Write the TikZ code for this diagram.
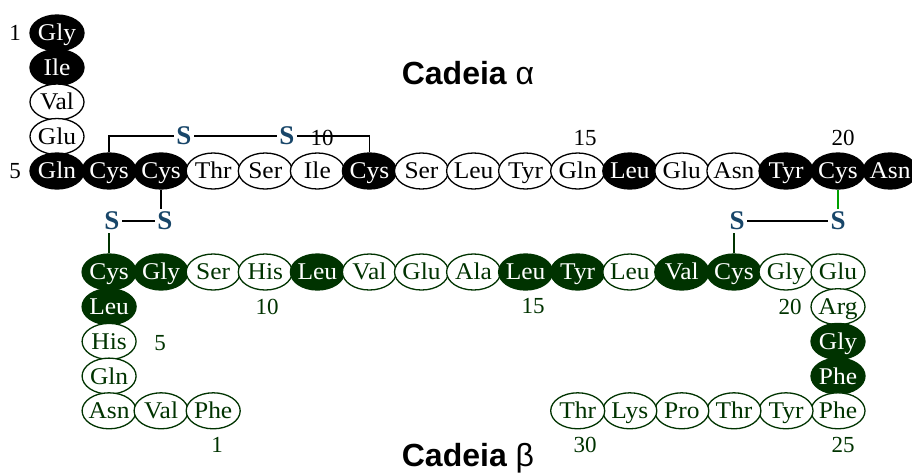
\documentclass[tikz,border=0pt]{standalone}
\usepackage{fontspec}
\setmainfont{Liberation Serif}
\newfontfamily\resfamily[FakeStretch=1.06]{Liberation Serif}
\newfontfamily\titlefamily{Liberation Sans}
\newcommand\myresfont{\resfamily\fontsize{24}{26}\selectfont}
\newcommand\mynumfont{\fontsize{23}{25}\selectfont}
\newcommand\mysfont{\bfseries\fontsize{27}{29}\selectfont}
\newcommand\mytitlefont{\titlefamily\fontsize{32}{34}\selectfont}
\newcommand\rsd[1]{\makebox[0pt]{#1}}
\usetikzlibrary{shapes.geometric}
\definecolor{dg}{RGB}{0,51,0}
\definecolor{sblue}{RGB}{24,70,105}
\definecolor{lg}{RGB}{0,160,0}
\tikzset{
  res/.style={ellipse, minimum width=54pt, minimum height=36pt, inner sep=0pt,
    line width=1.3pt, font=\myresfont, text height=17.5pt, text depth=1.6pt},
  af/.style={res, draw=black, fill=black, text=white},
  ao/.style={res, draw=black, fill=white, text=black},
  bf/.style={res, draw=dg, fill=dg, text=white},
  bo/.style={res, draw=dg, fill=white, text=dg},
  anum/.style={font=\mynumfont, text=black, inner sep=0pt},
  bnum/.style={font=\mynumfont, text=dg, inner sep=0pt},
  sulf/.style={font=\mysfont, text=sblue, inner sep=2.5pt},
  bond/.style={draw=black, line width=1.8pt},
  bondg/.style={draw=dg, line width=1.8pt},
  bondl/.style={draw=lg, line width=1.8pt},
  title/.style={font=\mytitlefont, text=black, inner sep=0pt}
}
\begin{document}
\begin{tikzpicture}[x=1pt,y=-1pt]
\useasboundingbox (0,0) rectangle (912,472);
\clip (0,0) rectangle (912,472);
\fill[white] (0,0) rectangle (912,472);

% chain alpha
\node[af] (a1) at (57,33) {\rsd{Gly}};
\node[af] (a2) at (57,67.5) {\rsd{Ile}};
\node[ao] (a3) at (57,102) {\rsd{Val}};
\node[ao] (a4) at (57,136.5) {\rsd{Glu}};
\node[af] (a5) at (57,171) {\rsd{Gln}};
\node[af] (a6) at (109.1,171) {\rsd{Cys}};
\node[af] (a7) at (161.1,171) {\rsd{Cys}};
\node[ao] (a8) at (213.2,171) {\rsd{Thr}};
\node[ao] (a9) at (265.3,171) {\rsd{Ser}};
\node[ao] (a10) at (317.4,171) {\rsd{Ile}};
\node[af] (a11) at (369.4,171) {\rsd{Cys}};
\node[ao] (a12) at (421.5,171) {\rsd{Ser}};
\node[ao] (a13) at (473.6,171) {\rsd{Leu}};
\node[ao] (a14) at (525.6,171) {\rsd{Tyr}};
\node[ao] (a15) at (577.7,171) {\rsd{Gln}};
\node[af] (a16) at (629.8,171) {\rsd{Leu}};
\node[ao] (a17) at (681.8,171) {\rsd{Glu}};
\node[ao] (a18) at (733.9,171) {\rsd{Asn}};
\node[af] (a19) at (786,171) {\rsd{Tyr}};
\node[af] (a20) at (838,171) {\rsd{Cys}};
\node[af] (a21) at (890.1,171) {\rsd{Asn}};

% chain beta
\node[bf] (b7) at (109.1,272) {\rsd{Cys}};
\node[bf] (b6) at (109.1,306.7) {\rsd{Leu}};
\node[bo] (b5) at (109.1,341.4) {\rsd{His}};
\node[bo] (b4) at (109.1,376.1) {\rsd{Gln}};
\node[bo] (b3) at (109.1,410.8) {\rsd{Asn}};
\node[bo] (b2) at (161.1,410.8) {\rsd{Val}};
\node[bo] (b1) at (213.2,410.8) {\rsd{Phe}};
\node[bf] (b8) at (161.1,272) {\rsd{Gly}};
\node[bo] (b9) at (213.2,272) {\rsd{Ser}};
\node[bo] (b10) at (265.3,272) {\rsd{His}};
\node[bf] (b11) at (317.4,272) {\rsd{Leu}};
\node[bo] (b12) at (369.4,272) {\rsd{Val}};
\node[bo] (b13) at (421.5,272) {\rsd{Glu}};
\node[bo] (b14) at (473.6,272) {\rsd{Ala}};
\node[bf] (b15) at (525.6,272) {\rsd{Leu}};
\node[bf] (b16) at (577.7,272) {\rsd{Tyr}};
\node[bo] (b17) at (629.8,272) {\rsd{Leu}};
\node[bf] (b18) at (681.8,272) {\rsd{Val}};
\node[bf] (b19) at (733.9,272) {\rsd{Cys}};
\node[bo] (b20) at (786,272) {\rsd{Gly}};
\node[bo] (b21) at (838,272) {\rsd{Glu}};
\node[bo] (b22) at (838,306.7) {\rsd{Arg}};
\node[bf] (b23) at (838,341.4) {\rsd{Gly}};
\node[bf] (b24) at (838,376.1) {\rsd{Phe}};
\node[bo] (b25) at (838,410.8) {\rsd{Phe}};
\node[bo] (b26) at (786,410.8) {\rsd{Tyr}};
\node[bo] (b27) at (733.9,410.8) {\rsd{Thr}};
\node[bo] (b28) at (681.8,410.8) {\rsd{Pro}};
\node[bo] (b29) at (629.8,410.8) {\rsd{Lys}};
\node[bo] (b30) at (577.7,410.8) {\rsd{Thr}};

% sulfur atoms
\node[sulf] (s1) at (184,136) {S};
\node[sulf] (s2) at (287,136) {S};
\node[sulf] (s3) at (112,221) {S};
\node[sulf] (s4) at (165,221) {S};
\node[sulf] (s5) at (737,221) {S};
\node[sulf] (s6) at (838,221) {S};

% disulfide bonds
\draw[bond] (a6.north) |- (s1.west);
\draw[bond] (s1.east) -- (s2.west);
\draw[bond] (s2.east) -| (a11.north);
\draw[bond] (a7.south) -- (a7.south |- s4.north);
\draw[bond] (s3.east) -- (s4.west);
\draw[bondg] (b7.north) -- (b7.north |- s3.south);
\draw[bondl] (a20.south) -- (a20.south |- s6.north);
\draw[bond] (s5.east) -- (s6.west);
\draw[bondg] (b19.north) -- (b19.north |- s5.south);

% numbers
\node[anum] (na1) at (15,33) {1};
\node[anum] (na5) at (15,171) {5};
\node[anum] (na10) at (322,138) {10};
\node[anum] (na15) at (585,138) {15};
\node[anum] (na20) at (843,138) {20};
\node[bnum] (nb1) at (217,445) {1};
\node[bnum] (nb5) at (160,343) {5};
\node[bnum] (nb10) at (267,307) {10};
\node[bnum] (nb15) at (533,306) {15};
\node[bnum] (nb20) at (790,307) {20};
\node[bnum] (nb25) at (843,445) {25};
\node[bnum] (nb30) at (585,445) {30};

% titles
\node[title] (ta) at (468,73) {\bfseries Cadeia \mdseries α};
\node[title] (tb) at (468,458) {\bfseries Cadeia \mdseries β};
\end{tikzpicture}
\end{document}
